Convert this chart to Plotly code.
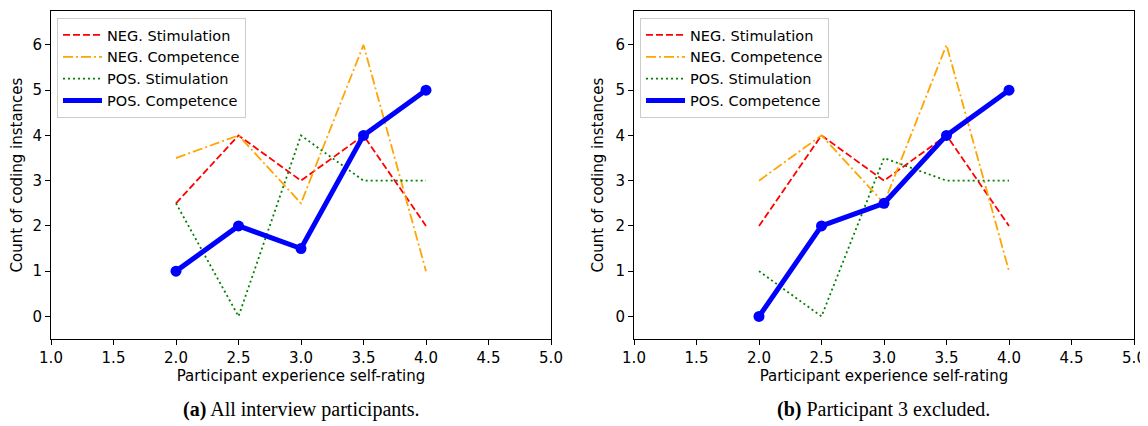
import plotly.graph_objects as go
from plotly.subplots import make_subplots

x_vals = [2.0, 2.5, 3.0, 3.5, 4.0]

# (a) All interview participants
a_neg_stim = [2.5, 4, 3, 4, 2]
a_neg_comp = [3.5, 4, 2.5, 6, 1]
a_pos_stim = [2.5, 0, 4, 3, 3]
a_pos_comp = [1, 2, 1.5, 4, 5]

# (b) Participant 3 excluded
b_neg_stim = [2, 4, 3, 4, 2]
b_neg_comp = [3, 4, 2.5, 6, 1]
b_pos_stim = [1, 0, 3.5, 3, 3]
b_pos_comp = [0, 2, 2.5, 4, 5]

series_names = ["NEG. Stimulation", "NEG. Competence", "POS. Stimulation", "POS. Competence"]
x_ticks = [1.0, 1.5, 2.0, 2.5, 3.0, 3.5, 4.0, 4.5, 5.0]
y_ticks = [0, 1, 2, 3, 4, 5, 6]
captions = ["<b>(a)</b> All interview participants.", "<b>(b)</b> Participant 3 excluded."]

# page body has an 8px margin: build the figure for the remaining area
OFF = 8
W, H = 1148 - OFF, 426 - OFF


def fx(px):
    return (px - OFF) / W


def fy(py):
    return 1 - (py - OFF) / H


styles = [
    dict(color="#ff0000", width=1.8, dash="7px,3px"),
    dict(color="#ffa500", width=1.8, dash="10px,3px,2px,3px"),
    dict(color="#008000", width=1.8, dash="2px,3px"),
    dict(color="#0000ff", width=5, dash="solid"),
]

fig = make_subplots(rows=1, cols=2)

panels = [
    (1, "legend", [a_neg_stim, a_neg_comp, a_pos_stim, a_pos_comp]),
    (2, "legend2", [b_neg_stim, b_neg_comp, b_pos_stim, b_pos_comp]),
]
for col, leg, data in panels:
    for i, (name, ys) in enumerate(zip(series_names, data)):
        fig.add_trace(
            go.Scatter(x=x_vals, y=ys, name=name, mode="lines",
                       line=styles[i], legend=leg),
            row=1, col=col,
        )
    fig.add_trace(
        go.Scatter(x=x_vals, y=data[3], mode="markers", showlegend=False,
                   marker=dict(size=11, color="#0000ff"), legend=leg),
        row=1, col=col,
    )

font_sans = "DejaVu Sans"
axis_common = dict(
    showline=True, linecolor="black", linewidth=1, mirror=True, automargin=False,
    ticks="outside", ticklen=5, tickcolor="black", showgrid=False, zeroline=False,
    tickfont=dict(family=font_sans, size=15, color="black"),
)
fig.update_xaxes(**axis_common, range=[1.0, 5.0], tickvals=x_ticks,
                 ticktext=[f"{t:.1f}" for t in x_ticks],
                 title=dict(text="Participant experience self-rating", standoff=4,
                            font=dict(family=font_sans, size=15, color="black")))
fig.update_yaxes(**axis_common, range=[-0.5, 6.75], tickvals=y_ticks,
                 title=dict(text="Count of coding instances", standoff=8,
                            font=dict(family=font_sans, size=15, color="black")))
yd = [fy(339), fy(11)]
fig.update_layout(
    xaxis=dict(domain=[fx(51), fx(551)]),
    xaxis2=dict(domain=[fx(634), fx(1134)]),
    yaxis=dict(domain=yd),
    yaxis2=dict(domain=yd),
)

legend_common = dict(
    bgcolor="rgba(255,255,255,0.8)", bordercolor="#cccccc", borderwidth=1,
    font=dict(family=font_sans, size=14.5, color="black"),
    xanchor="left", yanchor="top", tracegroupgap=0, itemwidth=39,
    entrywidth=152, entrywidthmode="pixels",
)
fig.update_layout(
    legend=dict(**legend_common, x=fx(57), y=fy(18)),
    legend2=dict(**legend_common, x=fx(640), y=fy(18)),
)

for cx, txt in zip([(51 + 551) / 2, (634 + 1134) / 2], captions):
    fig.add_annotation(text=txt, x=fx(cx), y=fy(409), xref="paper", yref="paper",
                       showarrow=False, xanchor="center", yanchor="middle",
                       font=dict(family="Liberation Serif", size=20, color="black"))

fig.update_layout(
    width=W, height=H, margin=dict(l=0, r=0, t=0, b=0),
    plot_bgcolor="white", paper_bgcolor="white", showlegend=True,
)
fig.write_html("out.html")
